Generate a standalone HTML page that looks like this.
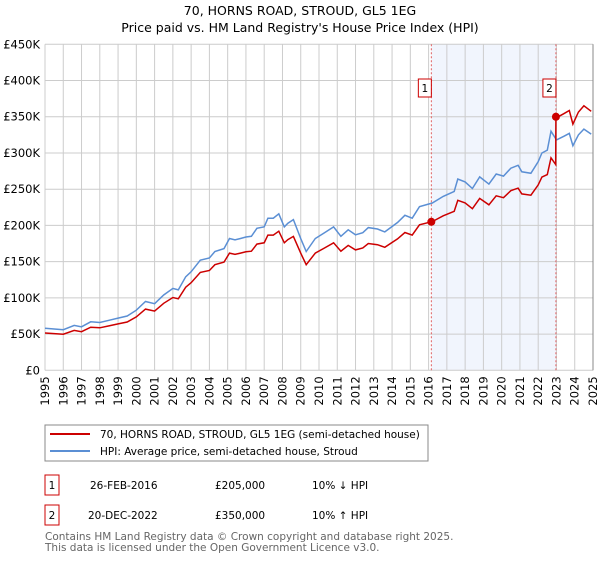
<!DOCTYPE html>
<html><head><meta charset="utf-8"><style>
body{margin:0;background:#fff;font-family:"Liberation Sans","DejaVu Sans",sans-serif}
svg text{font-family:"DejaVu Sans","Liberation Sans",sans-serif}
</style></head><body>
<svg id="c" width="600" height="560" viewBox="0 0 600 560">
<text x="300" y="15" text-anchor="middle" font-size="12.5" fill="#000">70, HORNS ROAD, STROUD, GL5 1EG</text>
<text x="300" y="32" text-anchor="middle" font-size="12.5" fill="#000">Price paid vs. HM Land Registry's House Price Index (HPI)</text>
<g id="plot"></g>
<rect x="45" y="425" width="383" height="36" fill="#fff" stroke="#888"/>
<line x1="50" y1="434" x2="90" y2="434" stroke="#cc0000" stroke-width="2"/>
<text x="100" y="438" font-size="10.5">70, HORNS ROAD, STROUD, GL5 1EG (semi-detached house)</text>
<line x1="50" y1="451" x2="90" y2="451" stroke="#5b8fd4" stroke-width="2"/>
<text x="100" y="455" font-size="10.5">HPI: Average price, semi-detached house, Stroud</text>
<g font-size="10.5" fill="#000">
<rect x="45" y="475" width="14" height="20" fill="none" stroke="#cc0000"/>
<text x="52" y="489" text-anchor="middle">1</text>
<text x="90" y="489">26-FEB-2016</text>
<text x="215" y="489">£205,000</text>
<text x="312" y="489">10% ↓ HPI</text>
<rect x="45" y="505" width="14" height="20" fill="none" stroke="#cc0000"/>
<text x="52" y="519" text-anchor="middle">2</text>
<text x="88" y="519">20-DEC-2022</text>
<text x="215" y="519">£350,000</text>
<text x="312" y="519">10% ↑ HPI</text>
</g>
<text x="45" y="540" font-size="10.5" fill="#666">Contains HM Land Registry data © Crown copyright and database right 2025.</text>
<text x="45" y="551" font-size="10.5" fill="#666">This data is licensed under the Open Government Licence v3.0.</text>
</svg>
<script>
const yTicks=[0,50,100,150,200,250,300,350,400,450];
const yTickLabels=["£0","£50K","£100K","£150K","£200K","£250K","£300K","£350K","£400K","£450K"];
const xYears=[1995,1996,1997,1998,1999,2000,2001,2002,2003,2004,2005,2006,2007,2008,2009,2010,2011,2012,2013,2014,2015,2016,2017,2018,2019,2020,2021,2022,2023,2024,2025];
const hpiDates=[1995.0,1995.5,1996.0,1996.6,1997.0,1997.5,1998.0,1998.5,1999.0,1999.5,2000.0,2000.5,2001.0,2001.5,2002.0,2002.3,2002.7,2003.0,2003.5,2004.0,2004.3,2004.8,2005.1,2005.4,2005.7,2006.0,2006.3,2006.6,2007.0,2007.2,2007.5,2007.8,2008.1,2008.3,2008.6,2009.0,2009.3,2009.8,2010.3,2010.8,2011.2,2011.6,2012.0,2012.4,2012.7,2013.2,2013.6,2014.3,2014.7,2015.1,2015.5,2016.2,2016.8,2017.4,2017.6,2018.0,2018.4,2018.8,2019.3,2019.7,2020.1,2020.5,2020.9,2021.1,2021.6,2022.0,2022.2,2022.5,2022.7,2023.0,2023.4,2023.7,2023.9,2024.2,2024.5,2024.9];
const hpiValues=[58,57,56,62,60,67,66,69,72,75,83,95,92,104,113,111,129,136,152,155,164,168,182,180,182,184,185,196,198,210,210,216,198,203,208,182,164,182,190,198,185,194,187,190,197,195,191,204,214,210,226,231,240,247,264,260,251,267,257,271,268,279,283,274,272,288,300,304,330,318,323,327,310,325,333,326];
const saleDates=[2016.15,2022.97];
const salePrices=[205,350];
const saleLabels=["1","2"];

const NS="http://www.w3.org/2000/svg";
const X0=45,X1=593,Y0=370.3,Y1=44.3;
const xs=yr=>X0+(yr-1995)/30*(X1-X0);
const ys=v=>Y0-v/450*(Y0-Y1);
const g=document.getElementById('plot');
function mk(t,a){const e=document.createElementNS(NS,t);for(const k in a)e.setAttribute(k,a[k]);g.appendChild(e);return e;}
function hpiAt(d){if(d<=hpiDates[0])return hpiValues[0];for(let i=1;i<hpiDates.length;i++){if(d<=hpiDates[i]){const t=(d-hpiDates[i-1])/(hpiDates[i]-hpiDates[i-1]);return hpiValues[i-1]+t*(hpiValues[i]-hpiValues[i-1]);}}return hpiValues[hpiValues.length-1];}

let sh=mk('rect',{x:xs(saleDates[0]),y:Y1,width:xs(saleDates[1])-xs(saleDates[0]),height:Y0-Y1,fill:'#eef3fc',opacity:0.8});


yTicks.forEach((v,i)=>{
 let l=mk('line',{x1:X0,x2:X1,y1:ys(v),y2:ys(v),stroke:'#cccccc','stroke-width':1});
 
 
 let t=mk('text',{x:40,y:ys(v)+4,'text-anchor':'end','font-size':11.5,fill:'#000'});
 t.textContent=yTickLabels[i];
 
 
});
xYears.forEach(yr=>{
 let l=mk('line',{x1:xs(yr),x2:xs(yr),y1:Y1,y2:Y0,stroke:'#cccccc','stroke-width':1});
 
 
 let t=mk('text',{x:0,y:0,'text-anchor':'end','font-size':11.5,fill:'#000',transform:`translate(${xs(yr)+4},${Y0+6}) rotate(-90)`});
 t.textContent=yr;
 
 
});
saleDates.forEach((d,i)=>{
 let l=mk('line',{x1:xs(d),x2:xs(d),y1:Y1,y2:Y0,stroke:'#e06060','stroke-width':1,'stroke-dasharray':'2,2'});
 
 
});
// HPI line
let hp=hpiDates.map((d,i)=>xs(d).toFixed(1)+','+ys(hpiValues[i]).toFixed(1)).join(' ');
let hl=mk('polyline',{points:hp,fill:'none',stroke:'#5b8fd4','stroke-width':1.5});


// property line: HPI indexed to each sale
function propAt(d){let k=0;if(d>=saleDates[1])k=1;return hpiAt(d)*salePrices[k]/hpiAt(saleDates[k]);}
let pts=[];
hpiDates.forEach(d=>{if(d<saleDates[1])pts.push([d,propAt(d)]);});
pts.push([saleDates[1]-0.01,propAt(saleDates[1]-0.01)]);
pts.push([saleDates[1],salePrices[1]]);
hpiDates.forEach(d=>{if(d>saleDates[1])pts.push([d,propAt(d)]);});
pts.sort((a,b)=>a[0]-b[0]);
let pl=mk('polyline',{points:pts.map(p=>xs(p[0]).toFixed(1)+','+ys(p[1]).toFixed(1)).join(' '),fill:'none',stroke:'#cc0000','stroke-width':1.5});


saleDates.forEach((d,i)=>{
 let c=mk('circle',{cx:xs(d),cy:ys(salePrices[i]),r:4,fill:'#cc0000'});
 
 
 let r=mk('rect',{x:xs(d)-13,y:79,width:13,height:18,fill:'#fff',stroke:'#cc0000'});
 
 
 let t=mk('text',{x:xs(d)-6.5,y:92,'text-anchor':'middle','font-size':10.5,fill:'#000'});
 t.textContent=saleLabels[i];
 
 
});
let ax=mk('line',{x1:X1,x2:X1,y1:Y1,y2:Y0,stroke:'#888','stroke-width':1});


</script>
</body></html>
